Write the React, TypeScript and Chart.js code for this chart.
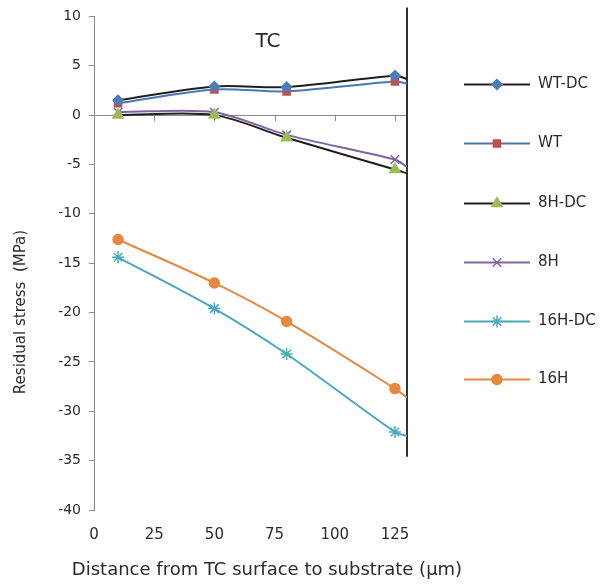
import React, { useEffect, useRef } from 'react';
import { Chart, registerables } from 'chart.js';
import { drawPoint } from 'chart.js/helpers';

Chart.register(...registerables);

// ---- data ----
const xValues = [10, 50, 80, 125, 130];
const wtDc = [1.5, 2.9, 2.85, 4.0, 3.65];
const wt = [1.2, 2.6, 2.4, 3.4, 3.2];
const h8Dc = [0, 0, -2.3, -5.5, -5.9];
const h8 = [0.3, 0.3, -2.0, -4.5, -5.25];
const h16Dc = [-14.4, -19.6, -24.2, -32.1, -32.5];
const h16 = [-12.6, -17.0, -20.9, -27.7, -28.6];
const seriesNames = ['WT-DC', 'WT', '8H-DC', '8H', '16H-DC', '16H'];
const seriesValues = [wtDc, wt, h8Dc, h8, h16Dc, h16];
const xTicks = [0, 25, 50, 75, 100, 125];
const xMin = 0;
const xMax = 130;
const yMin = -40;
const yMax = 10;
const yStep = 5;
const interfaceX = [130, 130];
const interfaceY = [10.9, -34.6];
const chartTitle = 'TC';
const xTitle = 'Distance from TC surface to substrate (μm)';
const yTitle = 'Residual stress  (MPa)';

// ---- styles ----
const styles = [
  { line: '#1f1f1f', marker: '#4a7ebb', point: 'rectRot', r: 5 },
  { line: '#4a78b0', marker: '#c0504d', point: 'rect', r: 5 },
  { line: '#1f1f1f', marker: '#9bbb59', point: 'triangle', r: 6 },
  { line: '#8064a2', marker: '#8064a2', point: 'crossRot', r: 6 },
  { line: '#4aa8bf', marker: '#4aa8bf', point: 'star', r: 6 },
  { line: '#e5893f', marker: '#e5893f', point: 'circle', r: 5 },
];

const FONT = 'DejaVu Sans';
const TEXT = '#2b2b2b';

const overlayPlugin = {
  id: 'overlay',
  beforeDatasetsDraw(chart: any) {
    const { ctx, chartArea, scales } = chart;
    const y0 = scales.y.getPixelForValue(0);
    ctx.save();
    ctx.strokeStyle = '#8a8a8a';
    ctx.lineWidth = 1;
    ctx.beginPath();
    ctx.moveTo(chartArea.left, Math.round(y0) + 0.5);
    ctx.lineTo(chartArea.right, Math.round(y0) + 0.5);
    xTicks.concat([xMax]).forEach((v) => {
      if (v === 0) return;
      const px = Math.round(scales.x.getPixelForValue(v)) + 0.5;
      ctx.moveTo(px, Math.round(y0));
      ctx.lineTo(px, Math.round(y0) + 6);
    });
    ctx.stroke();
    ctx.restore();
  },
  afterDraw(chart: any) {
    const { ctx } = chart;
    ctx.save();
    ctx.fillStyle = TEXT;
    // chart title
    ctx.font = `20px "${FONT}"`;
    ctx.textAlign = 'center';
    ctx.textBaseline = 'middle';
    ctx.fillText(chartTitle, 268, 42);
    // x title
    ctx.font = `18px "${FONT}"`;
    ctx.fillText(xTitle, 267, 570);
    // y title
    ctx.save();
    ctx.translate(21, 312);
    ctx.rotate(-Math.PI / 2);
    ctx.font = `15px "${FONT}"`;
    ctx.fillText(yTitle, 0, 0);
    ctx.restore();
    // legend
    const lx0 = 464;
    const lx1 = 530;
    const mx = 497;
    const ys = [84, 143, 203, 262, 321, 379];
    seriesNames.forEach((name, i) => {
      const s = styles[i];
      const y = ys[i] + 0.5;
      ctx.strokeStyle = s.line;
      ctx.lineWidth = 2;
      ctx.beginPath();
      ctx.moveTo(lx0, y);
      ctx.lineTo(lx1, y);
      ctx.stroke();
      ctx.fillStyle = s.marker;
      ctx.strokeStyle = s.marker;
      ctx.lineWidth = 1.5;
      drawPoint(ctx, { pointStyle: s.point, radius: s.r, rotation: 0, borderWidth: 1.5 }, mx, y);
      ctx.fillStyle = TEXT;
      ctx.font = `15px "${FONT}"`;
      ctx.textAlign = 'left';
      ctx.textBaseline = 'middle';
      ctx.fillText(name, 538, y);
    });
    ctx.restore();
  },
};

export default function App() {
  const ref = useRef<HTMLCanvasElement>(null);
  useEffect(() => {
    if (!ref.current) return;
    const datasets: any[] = seriesNames.map((name, i) => {
      const s = styles[i];
      return {
        label: name,
        data: xValues.map((x, j) => ({ x, y: seriesValues[i][j] })),
        borderColor: s.line,
        backgroundColor: s.marker,
        borderWidth: 2,
        pointStyle: s.point,
        pointRadius: xValues.map((_, j) => (j < 4 ? s.r : 0)),
        pointBorderColor: s.marker,
        pointBackgroundColor: s.marker,
        pointBorderWidth: 1.5,
        tension: 0.3,
        fill: false,
      };
    });
    datasets.push({
      label: 'interface',
      data: interfaceX.map((x, j) => ({ x, y: interfaceY[j] })),
      borderColor: '#333333',
      borderWidth: 2,
      pointRadius: 0,
      tension: 0,
      clip: false,
    });
    const chart = new Chart(ref.current, {
      type: 'line',
      data: { datasets },
      options: {
        animation: false,
        responsive: false,
        layout: { padding: { top: 16, right: 203, left: 0, bottom: 0 } },
        plugins: { legend: { display: false }, tooltip: { enabled: false }, title: { display: false } },
        scales: {
          x: {
            type: 'linear',
            min: xMin,
            max: xMax,
            afterBuildTicks: (scale: any) => {
              scale.ticks = xTicks.map((v) => ({ value: v }));
            },
            afterFit: (scale: any) => {
              scale.height = 74;
            },
            grid: { display: false, drawTicks: false },
            border: { display: false },
            ticks: {
              padding: 16,
              maxRotation: 0,
              autoSkip: false,
              color: TEXT,
              font: { family: FONT, size: 15 },
              callback: (v: any) => String(v),
            },
          },
          y: {
            type: 'linear',
            min: yMin,
            max: yMax,
            afterFit: (scale: any) => {
              scale.width = 94;
            },
            grid: { display: true, drawOnChartArea: false, drawTicks: true, tickLength: 5, color: '#8a8a8a' },
            border: { display: true, color: '#8a8a8a', width: 1 },
            ticks: {
              stepSize: yStep,
              padding: 8,
              color: TEXT,
              font: { family: FONT, size: 14 },
              callback: (v: any) => String(v),
            },
          },
        },
      },
      plugins: [overlayPlugin],
    });
    return () => chart.destroy();
  }, []);
  return (
    <div style={{ position: 'absolute', left: 0, top: 0, width: 610, height: 584, background: '#fff' }}>
      <canvas ref={ref} width={610} height={584} style={{ display: 'block' }} />
    </div>
  );
}
